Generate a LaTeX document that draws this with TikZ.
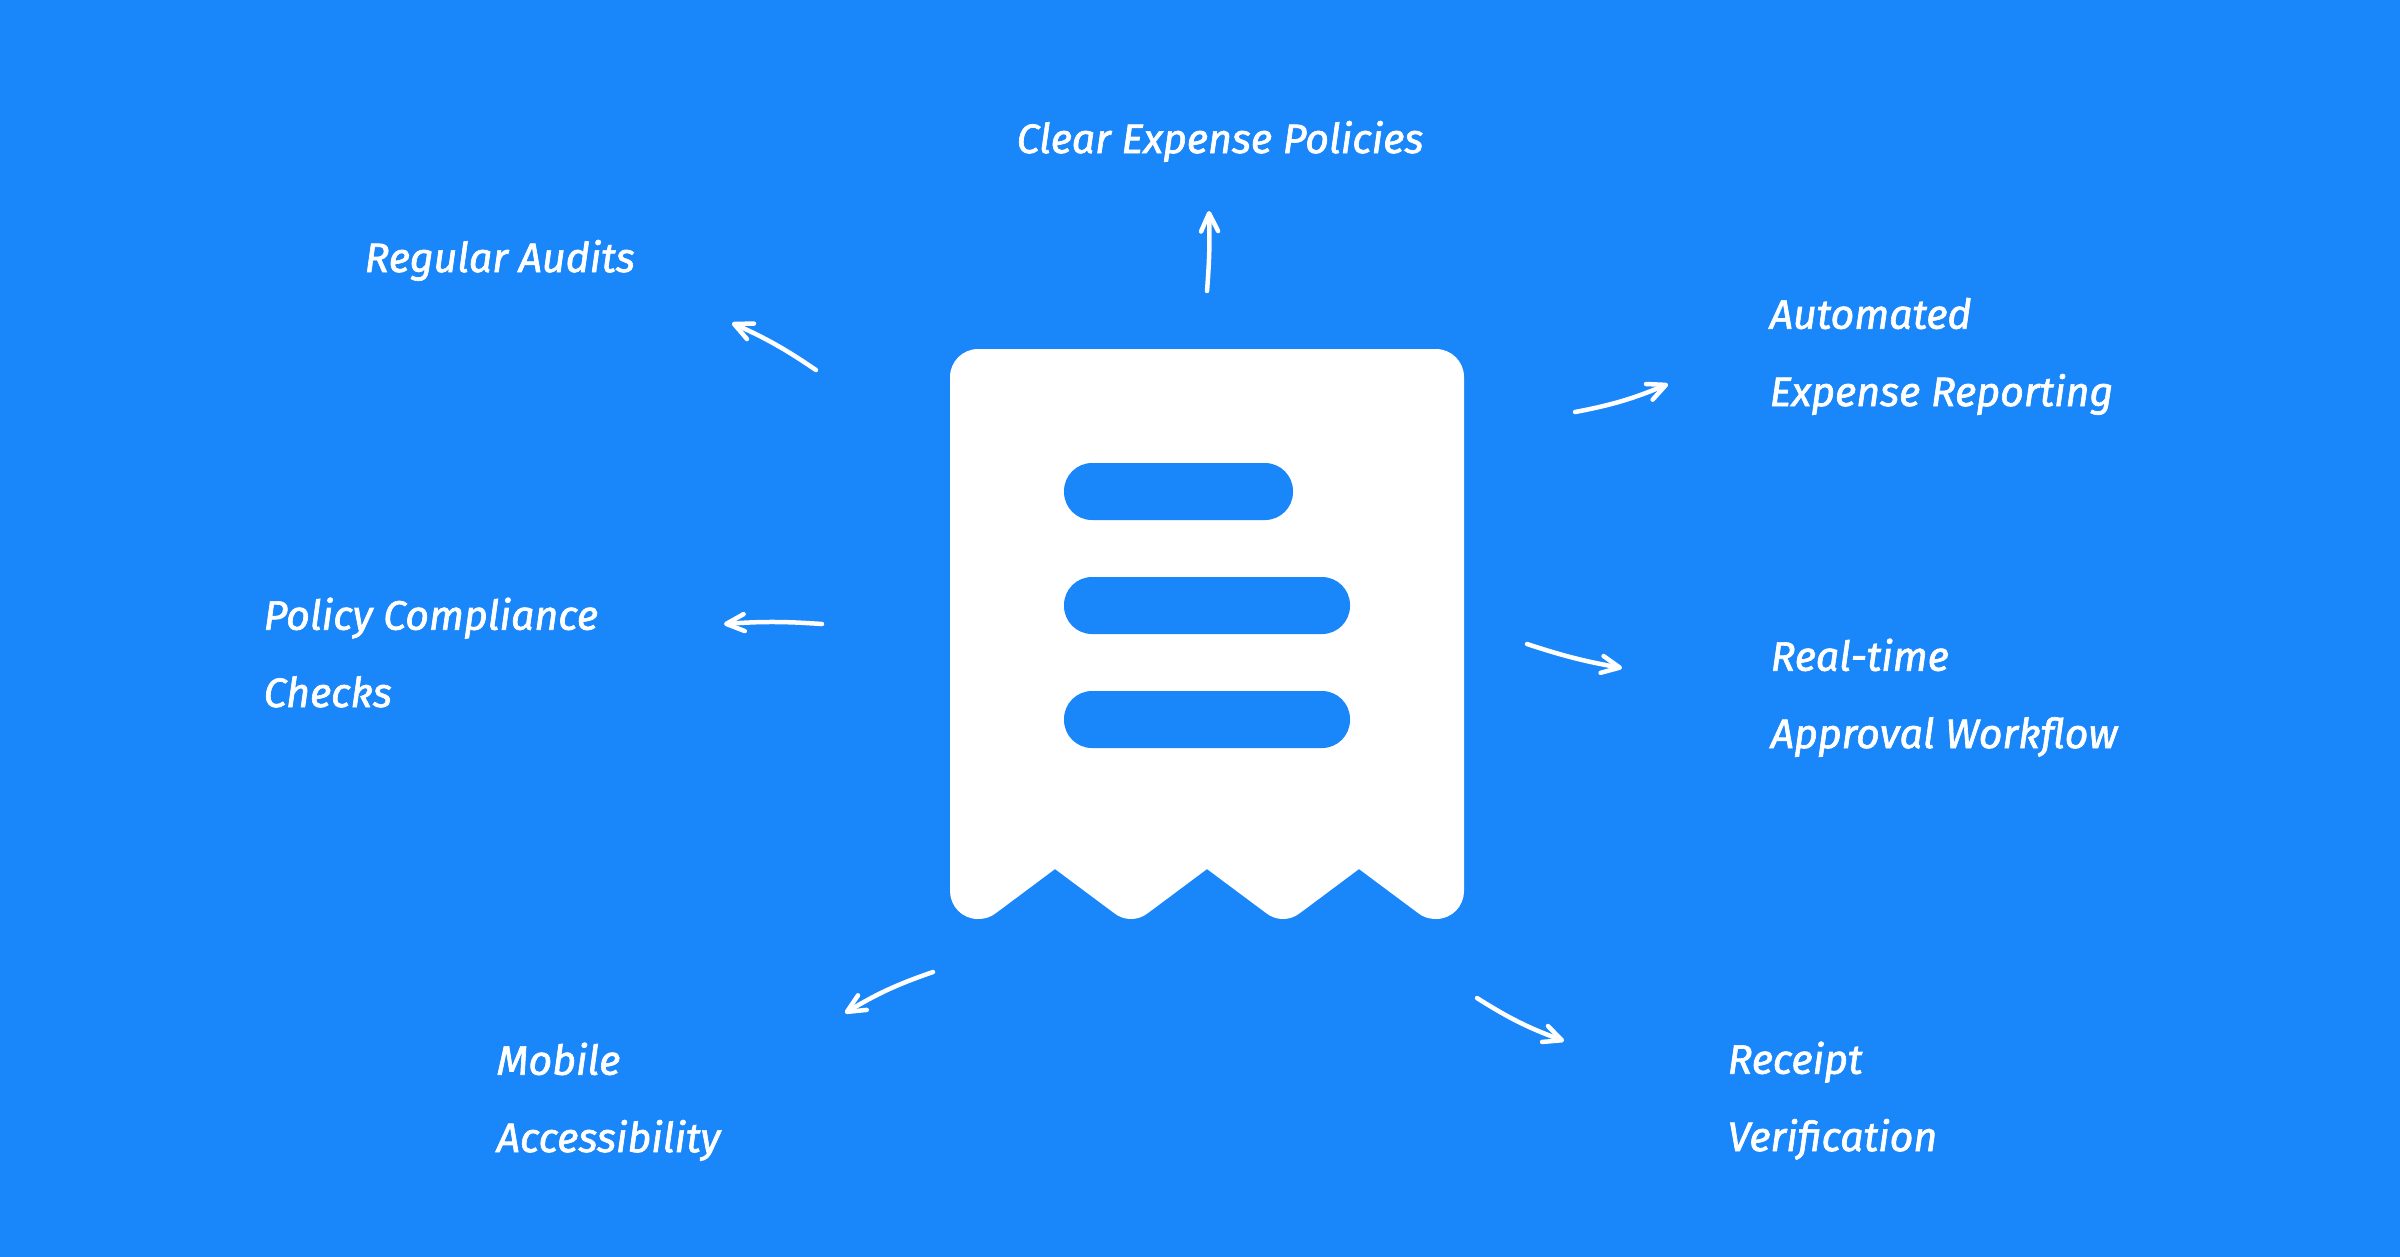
\documentclass[tikz,border=0pt]{standalone}
\usepackage{fontspec}
\setmainfont{Fira Sans}[ItalicFeatures={FakeBold=1.6}]
\usetikzlibrary{arrows.meta}
\definecolor{sheetblue}{HTML}{1986FA}
\tikzset{
  topic/.style={white,inner sep=0pt,anchor=base west,align=left,font=\itshape\fontsize{11.7}{22}\selectfont},
  hand/.style={white,line width=0.45mm,line cap=round,-{Straight Barb[round,length=1.8mm,width=1.7mm]}},
  slot/.style={fill=sheetblue,rounded corners=2.8mm}
}
\begin{document}
\begin{tikzpicture}[x=0.1mm,y=-0.1mm]
\useasboundingbox (0,0) rectangle (2400,1256);
\fill[sheetblue] (-10,-10) rectangle (2410,1266);
% receipt
\fill[white] (950,891) [rounded corners=2.8mm] -- (950,349) -- (1464,349) -- (1464,500) [sharp corners] -- (1464,891)
  .. controls (1464,906) and (1452,919) .. (1436,919) .. controls (1429,919) and (1423,917) .. (1418,913) -- (1359,869)
  -- (1300,913) .. controls (1295,917) and (1289,919) .. (1283,919) .. controls (1277,919) and (1271,917) .. (1266,913) -- (1207,869)
  -- (1148,913) .. controls (1143,917) and (1137,919) .. (1131,919) .. controls (1125,919) and (1119,917) .. (1114,913) -- (1055,869)
  -- (996,913) .. controls (991,917) and (985,919) .. (978,919) .. controls (962,919) and (950,906) .. (950,891) -- cycle;
\fill[slot] (1064,463) rectangle (1293,520);
\fill[slot] (1064,577) rectangle (1350,634);
\fill[slot] (1064,691) rectangle (1350,748);
% labels
\node[topic] (policies) at (1016,153) {Clear Expense Policies};
\node[topic] (audits) at (364,272) {Regular Audits};
\node[topic] (reporting) at (1769,406) {Automated\\Expense Reporting};
\node[topic] (approval) at (1770,748) {Real-time\\Approval Workflow};
\node[topic] (compliance) at (263,707) {Policy Compliance\\Checks};
\node[topic] (mobile) at (496,1152) {Mobile\\Accessibility};
\node[topic] (receipts) at (1727,1151) {Receipt\\Verification};
% arrows
\coordinate (a1) at (1207,291); \coordinate (b1) at (1209,211);
\coordinate (a2) at (816,370);  \coordinate (b2) at (732,323);
\coordinate (a3) at (1575,412); \coordinate (b3) at (1668,384);
\coordinate (a4) at (1527,644); \coordinate (b4) at (1622,668);
\coordinate (a5) at (822,624);  \coordinate (b5) at (724,624);
\coordinate (a6) at (933,972);  \coordinate (b6) at (845,1013);
\coordinate (a7) at (1477,998); \coordinate (b7) at (1564,1041);
\draw[hand] (a1) to[bend right=3] (b1);
\draw[hand] (a2) to[bend right=5] (b2);
\draw[hand] (a3) to[bend right=6] (b3);
\draw[hand] (a4) to[bend right=4] (b4);
\draw[hand] (a5) to[bend right=4] (b5);
\draw[hand] (a6) to[bend right=6] (b6);
\draw[hand] (a7) to[bend right=6] (b7);
\end{tikzpicture}
\end{document}
